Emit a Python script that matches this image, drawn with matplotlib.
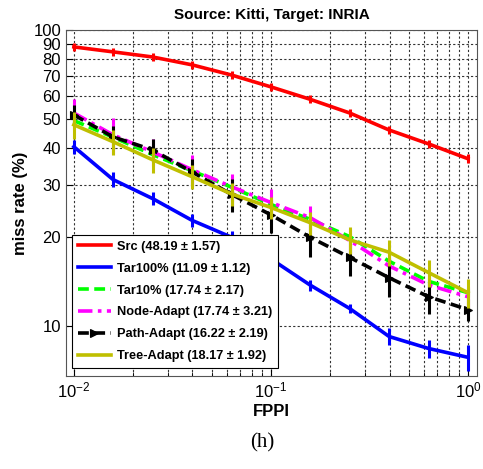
import numpy as np
import matplotlib
matplotlib.use("Agg")
import matplotlib.pyplot as plt
from matplotlib.ticker import FixedLocator, NullLocator, LogLocator

plt.rcParams['font.family'] = ['Liberation Sans', 'DejaVu Sans']
plt.rcParams['mathtext.fontset'] = 'custom'
plt.rcParams['mathtext.rm'] = 'Liberation Sans'

fppi = [0.01, 0.0158, 0.0251, 0.0398, 0.0631, 0.1, 0.158, 0.251, 0.398, 0.631, 1.0]

src = [87.7, 84.4, 81.1, 76.3, 70.5, 64.3, 58.4, 52.5, 46.0, 41.3, 36.8]
src_err = [2.5, 2.5, 2.5, 2.2, 2.0, 2.0, 1.8, 1.6, 1.5, 1.3, 1.3]
tar100 = [40.4, 31.3, 27.0, 22.8, 20.0, 16.9, 13.8, 11.5, 9.25, 8.43, 7.87]
tar100_err = [2.2, 1.8, 1.4, 1.1, 1.0, 0.8, 0.6, 0.4, 0.6, 0.6, 0.8]
tar10 = [49.5, 43.5, 38.0, 33.5, 29.5, 25.8, 23.0, 20.1, 16.6, 14.2, 13.0]
tar10_err = [1.2, 1.0, 1.0, 0.9, 0.8, 0.7, 0.6, 0.5, 0.5, 0.4, 0.4]
node = [52.5, 44.3, 38.8, 33.8, 29.6, 26.2, 23.3, 19.5, 16.0, 13.8, 12.6]
node_err = [6.0, 6.0, 4.0, 4.0, 3.0, 2.8, 2.2, 1.8, 1.5, 1.3, 1.0]
path = [51.7, 43.6, 39.4, 33.2, 27.9, 23.8, 20.0, 17.1, 14.6, 12.6, 11.4]
path_err = [4.0, 4.0, 3.5, 3.5, 3.5, 3.2, 2.8, 2.3, 2.0, 1.6, 1.0]
tree = [47.9, 42.0, 36.5, 32.0, 28.0, 25.2, 22.4, 19.6, 17.8, 15.2, 13.0]
tree_err = [5.0, 4.0, 3.5, 3.0, 2.5, 2.2, 2.0, 2.0, 1.8, 1.6, 1.5]

labels = ["Src (48.19 \u00b1 1.57)", "Tar100% (11.09 \u00b1 1.12)", "Tar10% (17.74 \u00b1 2.17)",
          "Node-Adapt (17.74 \u00b1 3.21)", "Path-Adapt (16.22 \u00b1 2.19)", "Tree-Adapt (18.17 \u00b1 1.92)"]

yticks = [10, 20, 30, 40, 50, 60, 70, 80, 90, 100]

fig = plt.figure(figsize=(4.83, 4.69), dpi=100)
ax = fig.add_axes([0.1366, 0.198, 0.851, 0.738])
ax.set_xscale('log')
ax.set_yscale('log')

series = [
    (src, src_err, '#ff0000', '-', None),
    (tar100, tar100_err, '#0000ff', '-', None),
    (tar10, tar10_err, '#00ff00', (0, (3, 1.5)), None),
    (node, node_err, '#ff00ff', (0, (4, 1.5, 1, 1.5)), None),
    (path, path_err, '#000000', (0, (3, 1.5)), '>'),
    (tree, tree_err, '#bfbf00', '-', None),
]
handles = []
for i, (vals, err, col, ls, mk) in enumerate(series):
    ax.errorbar(fppi, vals, yerr=err, fmt='none', ecolor=col, elinewidth=2.2, capsize=0, zorder=3 + i)
    h, = ax.plot(fppi, vals, color=col, linestyle=ls, lw=2.6, marker=mk, markersize=6,
                 markeredgewidth=0.8, label=labels[i], zorder=3 + i)
    handles.append(h)

ax.set_xlim(10 ** -2.04, 10 ** 0.046)
ax.set_ylim(6.8, 100)
ax.yaxis.set_major_locator(FixedLocator(yticks))
ax.yaxis.set_minor_locator(NullLocator())
ax.set_yticklabels([str(t) for t in yticks])
ax.xaxis.set_major_locator(LogLocator(base=10, numticks=10))
ax.xaxis.set_minor_locator(LogLocator(base=10, subs=np.arange(2, 10), numticks=20))

ax.grid(True, which='major', axis='both', linestyle=(0, (2, 2)), color='#333333', lw=0.8)
ax.grid(True, which='minor', axis='x', linestyle=(0, (2, 2)), color='#333333', lw=0.8)
ax.tick_params(which='both', direction='in', labelsize=12)
ax.tick_params(which='major', length=5)
ax.tick_params(which='minor', length=3)
for s in ax.spines.values():
    s.set_color('#555555')

ax.set_title("Source: Kitti, Target: INRIA", fontsize=11, fontweight='bold', pad=8)
ax.set_ylabel("miss rate (%)", fontsize=12, fontweight='bold')
ax.set_xlabel("FPPI", fontsize=12, fontweight='bold', labelpad=2)

leg = ax.legend(handles=handles, loc='lower left', bbox_to_anchor=(0.0146, 0.023),
                borderaxespad=0, prop={'weight': 'bold', 'size': 9.2}, handlelength=2.6,
                fancybox=False, framealpha=1, edgecolor='black', labelspacing=0.78,
                handletextpad=0.5, borderpad=0.45)
leg.get_frame().set_linewidth(0.8)
leg.set_zorder(20)

fig.text(0.543, 0.055, "(h)", fontsize=15, family='Liberation Serif', ha='center', va='center')

fig.savefig("out.png", dpi=100)
